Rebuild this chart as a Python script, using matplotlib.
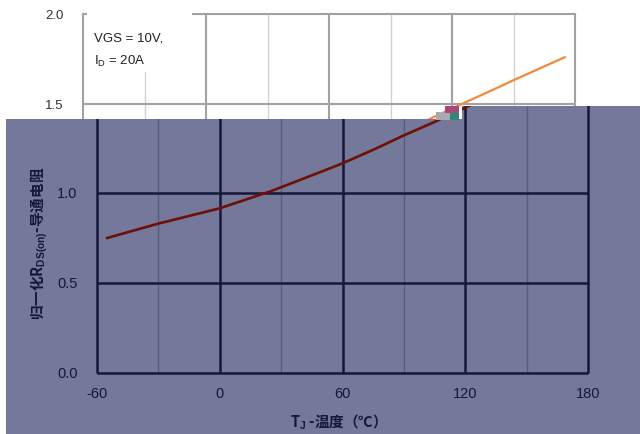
import matplotlib.pyplot as plt
from matplotlib.patches import Polygon, Rectangle

# data
temp = [-55, -30, 0, 25, 50, 60, 75, 90, 105, 120, 135, 150, 175]
rds = [0.75, 0.83, 0.915, 1.01, 1.12, 1.165, 1.24, 1.32, 1.395, 1.475, 1.553, 1.632, 1.76]

x_major = [-60, 0, 60, 120, 180]
x_minor = [-30, 30, 90, 150]
y_major = [0.0, 0.5, 1.0, 1.5, 2.0]
x_labels = ["-60", "0", "60", "120", "180"]
y_labels = ["0.0", "0.5", "1.0", "1.5", "2.0"]

W, H = 640, 434
OVERLAY_TOP = 119
SLATE = "#74789a"
NAVY = "#16163a"

plt.rcParams["mathtext.fontset"] = "custom"
plt.rcParams["mathtext.rm"] = "Liberation Sans"
plt.rcParams["mathtext.bf"] = "Liberation Sans:bold"
plt.rcParams["font.family"] = ["Liberation Sans", "DejaVu Sans"]
CJK = ["Noto Sans CJK SC", "Liberation Sans", "DejaVu Sans"]


def px_rect(left, top, right, bottom):
    """Pixel box (top-left origin) -> figure fraction rect."""
    return [left / W, 1 - bottom / H, (right - left) / W, (bottom - top) / H]


def px_pt(x, y):
    return (x / W, 1 - y / H)


def label_row(ax, value):
    """Pixel row (from the top) of a y value on the given axes."""
    return H - ax.transData.transform((0, value))[1]


fig = plt.figure(figsize=(6.4, 4.34), dpi=100)
fig.patch.set_facecolor("white")

###############
# white chart #
###############

ax_w = fig.add_axes(px_rect(83, 14, 575, 374))
ax_w.set_zorder(0)
ax_w.set_xlim(-60, 180)
ax_w.set_ylim(0, 2)
ax_w.vlines(x_minor, 0, 2, color="#d2d2d2", lw=1.0, zorder=1)
ax_w.vlines(x_major[1:-1], 0, 2, color="#a2a2a2", lw=1.5, zorder=1)
ax_w.hlines(y_major[1:-1], -60, 180, color="#a2a2a2", lw=1.5, zorder=1)
ax_w.plot(temp, rds, color="#f08a3c", lw=1.6, zorder=2)
for s in ax_w.spines.values():
    s.set_color("#a2a2a2")
    s.set_linewidth(1.5)
ax_w.set_xticks(x_major, x_labels)
ax_w.set_yticks(y_major, y_labels)
ax_w.tick_params(length=0, labelsize=9.5, labelcolor="#333333", pad=14)
ax_w.tick_params(axis="x", labelbottom=False)   # covered by the overlay anyway

ax_w.add_patch(Rectangle((0.008, 0.839), 0.214, 0.18, transform=ax_w.transAxes,
                         facecolor="white", edgecolor="none", zorder=3, clip_on=False))
ax_w.text(0.022, 0.925, "VGS = 10V,", transform=ax_w.transAxes,
          fontsize=9.5, color="#222222", zorder=4)
ax_w.text(0.022, 0.858, r"I$_{\rm D}$ = 20A", transform=ax_w.transAxes,
          fontsize=9.5, color="#222222", zorder=4)

###########
# overlay #
###########

overlay = Polygon([px_pt(6, OVERLAY_TOP), px_pt(462, OVERLAY_TOP), px_pt(462, 106),
                   px_pt(640, 106), px_pt(640, 434), px_pt(6, 434)],
                  closed=True, transform=fig.transFigure,
                  facecolor=SLATE, edgecolor="none", zorder=1)
fig.patches.append(overlay)

##############
# dark chart #
##############

ax_d = fig.add_axes(px_rect(97, 13, 588, 373))
ax_d.set_zorder(2)
ax_d.patch.set_visible(False)
for s in ax_d.spines.values():
    s.set_visible(False)
ax_d.set_xlim(-60, 180)
ax_d.set_ylim(0, 2)

dark = [
    ax_d.vlines(x_minor, 0, 2, color="#585c80", lw=1.0, zorder=1),
    ax_d.vlines(x_major, 0, 2, color=NAVY, lw=1.8, zorder=1),
    ax_d.hlines(y_major, -60, 180, color=NAVY, lw=1.8, zorder=1),
]
dark += ax_d.plot(temp, rds, color="#6e1006", lw=1.9, zorder=2)
for a in dark:
    a.set_clip_box(None)
    a.set_clip_path(overlay)

ax_d.set_xticks(x_major, x_labels)
ax_d.set_yticks(y_major, y_labels)
ax_d.tick_params(length=0, labelsize=10.5, labelcolor=NAVY)
ax_d.tick_params(axis="y", pad=14)
ax_d.tick_params(axis="x", pad=10)

# each chart only shows the y labels on its own side of the overlay edge
fig.canvas.draw()
for v, lbl in zip(y_major, ax_w.get_yticklabels()):
    lbl.set_visible(label_row(ax_w, v) < OVERLAY_TOP)
for v, lbl in zip(y_major, ax_d.get_yticklabels()):
    lbl.set_visible(label_row(ax_d, v) > OVERLAY_TOP)

fig.text(*px_pt(39, 243), "归一化R$_{\\bf DS(on)}$-导通电阻", rotation=90,
         ha="center", va="center", fontsize=10.5, fontweight="bold",
         family=CJK, color=NAVY, zorder=3)
fig.text(*px_pt(335, 422), "T$_{\\bf J}$ -温度（℃）", ha="center", va="center",
         fontsize=10.5, fontweight="bold", family=CJK, color=NAVY, zorder=3)

# small rendering glitch near the overlay step
for (l, t, r, b), c in [((436, 112, 450, 120), "#a8a8ae"),
                        ((445, 106, 459, 113), "#a8487a"),
                        ((450, 113, 459, 120), "#2e8a74")]:
    fig.patches.append(Rectangle(px_pt(l, b), (r - l) / W, (b - t) / H,
                                 transform=fig.transFigure, facecolor=c,
                                 edgecolor="none", zorder=4))

fig.savefig("out.png", dpi=100)
